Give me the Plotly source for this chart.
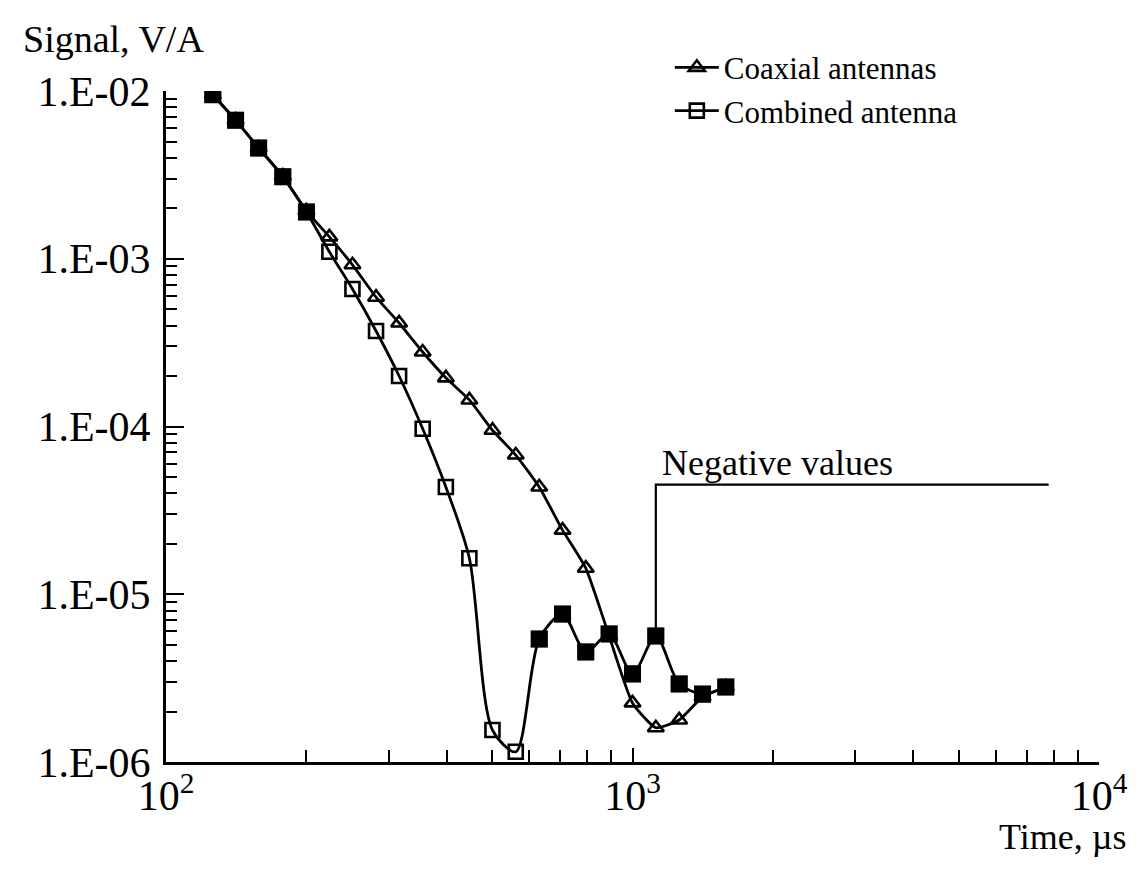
import math
import plotly.graph_objects as go

# ---- data ----
time_us = [126, 141, 158, 178, 200, 224, 251, 282, 316, 355, 398, 447,
           501, 562, 631, 708, 794, 891, 1000, 1122, 1259, 1413, 1585]

coaxial = [9.5e-3, 6.7e-3, 4.57e-3, 3.11e-3, 1.93e-3, 1.35e-3, 9.2e-4, 5.9e-4,
           4.14e-4, 2.78e-4, 1.95e-4, 1.44e-4, 9.5e-5, 6.76e-5, 4.36e-5, 2.41e-5,
           1.43e-5, 5.64e-6, 2.25e-6, 1.60e-6, 1.78e-6, 2.44e-6, 2.80e-6]

combined = [9.5e-3, 6.7e-3, 4.57e-3, 3.08e-3, 1.90e-3, 1.10e-3, 6.6e-4, 3.71e-4,
            2.00e-4, 9.7e-5, 4.36e-5, 1.64e-5, 1.55e-6, 1.15e-6, 5.41e-6, 7.62e-6,
            4.53e-6, 5.8e-6, 3.35e-6, 5.64e-6, 2.92e-6, 2.54e-6, 2.80e-6]

# points drawn as solid squares (overlapping start + negative values)
solid_idx = [0, 1, 2, 3, 4, 14, 15, 16, 17, 18, 19, 20, 21, 22]

series_names = ["Coaxial antennas", "Combined antenna"]
y_ticks = [1e-2, 1e-3, 1e-4, 1e-5, 1e-6]
y_ticktext = ["1.E-02", "1.E-03", "1.E-04", "1.E-05", "1.E-06"]
x_ticks = [100, 1000, 10000]
x_ticktext = ["10<sup>2</sup>", "10<sup>3</sup>", "10<sup>4</sup>"]

neg_label = "Negative values"
neg_anchor_idx = 19
neg_level = 4.5e-5
neg_end_x = 7800

FONT = "Liberation Serif"

fig = go.Figure()

fig.add_trace(go.Scatter(
    x=time_us, y=coaxial, name=series_names[0], mode="lines+markers",
    line=dict(color="black", width=2.8, shape="spline", smoothing=0.5),
    marker=dict(symbol="triangle-up-open", size=14, color="black",
                line=dict(width=2.6, color="black")),
))
fig.add_trace(go.Scatter(
    x=time_us, y=combined, name=series_names[1], mode="lines+markers",
    line=dict(color="black", width=2.8, shape="spline", smoothing=0.8),
    marker=dict(symbol="square-open", size=14, color="black",
                line=dict(width=2.6, color="black")),
))
fig.add_trace(go.Scatter(
    x=[time_us[i] for i in solid_idx], y=[combined[i] for i in solid_idx],
    mode="markers", showlegend=False, hoverinfo="skip",
    marker=dict(symbol="square", size=17, color="black"),
))
# bracket marking negative values
fig.add_trace(go.Scatter(
    x=[time_us[neg_anchor_idx], time_us[neg_anchor_idx], neg_end_x],
    y=[combined[neg_anchor_idx], neg_level, neg_level],
    mode="lines", showlegend=False, hoverinfo="skip",
    line=dict(color="black", width=2.2),
))

fig.add_annotation(
    x=math.log10(time_us[neg_anchor_idx]) + 0.01, y=math.log10(neg_level),
    xref="x", yref="y", text=neg_label, showarrow=False,
    xanchor="left", yanchor="bottom", yshift=0,
    font=dict(family=FONT, size=36, color="black"),
)
fig.add_annotation(
    x=-0.155, y=1.078, xref="paper", yref="paper", text="Signal, V/A",
    showarrow=False, xanchor="left", yanchor="middle",
    font=dict(family=FONT, size=38, color="black"),
)
fig.add_annotation(
    x=1.031, y=-0.112, xref="paper", yref="paper", text="Time, µs",
    showarrow=False, xanchor="right", yanchor="middle",
    font=dict(family=FONT, size=36, color="black"),
)

fig.update_layout(
    width=1140, height=872,
    margin=dict(l=166, r=34, t=91, b=110),
    paper_bgcolor="white", plot_bgcolor="white",
    font=dict(family=FONT, color="black"),
    showlegend=True,
    legend=dict(x=0.54, y=1.075, xanchor="left", yanchor="top",
                bgcolor="rgba(0,0,0,0)", font=dict(family=FONT, size=31),
                itemwidth=44, tracegroupgap=0),
)
fig.update_xaxes(
    type="log", range=[2, 4], showgrid=False, zeroline=False,
    showline=True, linecolor="black", linewidth=3,
    tickvals=x_ticks, ticktext=x_ticktext, ticks="inside", ticklen=14,
    tickwidth=2, tickcolor="black", ticklabelstandoff=-5,
    tickfont=dict(family=FONT, size=42, color="black"),
    minor=dict(dtick="D1", ticks="inside", ticklen=12, tickwidth=2,
               tickcolor="black", showgrid=False),
)
fig.update_yaxes(
    type="log", range=[-6, -2], showgrid=False, zeroline=False,
    showline=True, linecolor="black", linewidth=3,
    tickvals=y_ticks, ticktext=y_ticktext, ticks="inside", ticklen=18,
    tickwidth=2, tickcolor="black", ticklabelstandoff=4,
    tickfont=dict(family=FONT, size=42, color="black"),
    minor=dict(dtick="D1", ticks="inside", ticklen=11, tickwidth=2,
               tickcolor="black", showgrid=False),
)

fig.write_html("out.html")
